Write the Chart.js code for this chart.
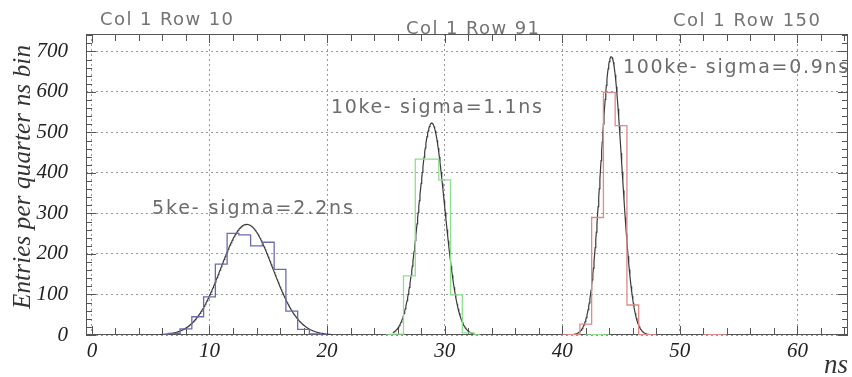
<!DOCTYPE html>
<html>
<head>
<meta charset="utf-8">
<script src="https://cdn.jsdelivr.net/npm/chart.js@4.4.1/dist/chart.umd.min.js"></script>
<style>
  html, body { margin: 0; padding: 0; background: #fff; }
  #wrap { width: 852px; height: 377px; }
</style>
</head>
<body>
<div id="wrap"><canvas id="timing" width="852" height="377"></canvas></div>
<script>
// timing histograms, 1 ns bins (centres), one per pixel row
const binsRow10 = [6, 7, 8, 9, 10, 11, 12, 13, 14, 15, 16, 17, 18, 19, 20];
const countsRow10 = [0, 4, 15, 45, 94, 175, 251, 247, 220, 229, 162, 59, 14, 3, 0];

const binsRow91 = [25, 26, 27, 28, 29, 30, 31, 32, 33, 34, 42, 43, 44];
const countsRow91 = [0, 2, 146, 434, 434, 383, 99, 5, 0, null, 0, 1, 0];

const binsRow150 = [40, 41, 42, 43, 44, 45, 46, 47, 48, 49, 52, 53, 54];
const countsRow150 = [0, 1, 27, 290, 599, 517, 74, 1, 0, null, 0, 1, 0];

// gaussian fit results
const fitAmp = [273, 523, 687];
const fitMean = [13.17, 28.9, 44.17];
const fitSigma = [2.2, 1.1, 0.9];
const fitFrom = [5.8, 25.6, 40.4];
const fitTo = [20.3, 32.6, 47.6];

const padTitles = ['Col 1 Row 10', 'Col 1 Row 91', 'Col 1 Row 150'];
const fitLabels = ['5ke- sigma=2.2ns', '10ke- sigma=1.1ns', '100ke- sigma=0.9ns'];

const xTicks = [0, 10, 20, 30, 40, 50, 60];
const yTicks = [0, 100, 200, 300, 400, 500, 600, 700];

function histPoints(bins, counts) {
  return bins.map((b, i) => ({ x: b, y: counts[i] }));
}

function fitPoints(k) {
  const pts = [];
  for (let x = fitFrom[k]; x <= fitTo[k] + 1e-9; x += 0.05) {
    const d = (x - fitMean[k]) / fitSigma[k];
    pts.push({ x: x, y: fitAmp[k] * Math.exp(-0.5 * d * d) });
  }
  return pts;
}

// draw str starting at left, stretched to width via letter spacing
function spacedText(ctx, str, left, base, width) {
  ctx.letterSpacing = '0px';
  const w = ctx.measureText(str).width;
  const sp = Math.max(0, (width - w) / (str.length - 1));
  ctx.letterSpacing = sp.toFixed(2) + 'px';
  ctx.fillText(str, left, base);
  ctx.letterSpacing = '0px';
}

const frameAndText = {
  id: 'frameAndText',
  beforeDatasetsDraw(chart) {
    const ctx = chart.ctx;
    const a = chart.chartArea;
    const xs = chart.scales.x, ys = chart.scales.y;
    ctx.save();
    ctx.strokeStyle = '#555';
    ctx.lineWidth = 1;
    ctx.strokeRect(a.left + 0.5, a.top + 0.5, a.right - a.left - 1, a.bottom - a.top - 1);

    ctx.beginPath();
    // x ticks, bottom and top, major every 10 and minor every 2
    for (let v = 0; v <= xs.max; v += 2) {
      const px = Math.round(xs.getPixelForValue(v)) + 0.5;
      const len = v % 10 === 0 ? 9 : 7;
      ctx.moveTo(px, a.bottom); ctx.lineTo(px, a.bottom - len);
      ctx.moveTo(px, a.top); ctx.lineTo(px, a.top + len);
    }
    // y ticks, left and right, major every 100 and minor every 20
    for (let v = 0; v <= ys.max; v += 20) {
      const py = Math.round(ys.getPixelForValue(v)) + 0.5;
      const len = v % 100 === 0 ? 10 : 6;
      ctx.moveTo(a.left, py); ctx.lineTo(a.left + len, py);
      ctx.moveTo(a.right, py); ctx.lineTo(a.right - len, py);
    }
    ctx.stroke();
    ctx.restore();
  },
  afterDraw(chart) {
    const ctx = chart.ctx;
    ctx.save();
    ctx.textAlign = 'left';
    ctx.textBaseline = 'alphabetic';

    ctx.fillStyle = '#737373';
    ctx.font = '18px "DejaVu Sans", Arial, sans-serif';
    spacedText(ctx, padTitles[0], 100, 25, 133);
    spacedText(ctx, padTitles[1], 406, 34, 133);
    spacedText(ctx, padTitles[2], 673, 26, 147);

    ctx.fillStyle = '#6c6c6c';
    ctx.font = '19px "DejaVu Sans", Arial, sans-serif';
    spacedText(ctx, fitLabels[0], 152, 214, 201);
    spacedText(ctx, fitLabels[1], 331, 113, 211);
    spacedText(ctx, fitLabels[2], 623, 73, 225);

    // axis titles
    ctx.fillStyle = '#333';
    ctx.font = 'italic 27px "Liberation Serif", "Times New Roman", serif';
    ctx.textAlign = 'right';
    ctx.fillText('ns', 848, 373);

    ctx.save();
    ctx.translate(30, 177);
    ctx.rotate(-Math.PI / 2);
    ctx.font = 'italic 25px "Liberation Serif", "Times New Roman", serif';
    ctx.textAlign = 'left';
    const yTitle = 'Entries per quarter ns bin';
    spacedText(ctx, yTitle, -132, 0, 264);
    ctx.restore();

    ctx.restore();
  }
};

const histStyle = (color) => ({
  type: 'line',
  stepped: 'middle',
  borderColor: color,
  borderWidth: 1.3,
  pointRadius: 0,
  fill: false,
  spanGaps: false
});

const fitStyle = {
  type: 'line',
  borderColor: '#3a3a3a',
  borderWidth: 1.2,
  pointRadius: 0,
  fill: false,
  tension: 0
};

const tickFont = { family: '"Liberation Serif", "Times New Roman", serif', style: 'italic', size: 21 };

new Chart(document.getElementById('timing'), {
  type: 'line',
  data: {
    datasets: [
      Object.assign({ data: histPoints(binsRow10, countsRow10) }, histStyle('#6b6bb0')),
      Object.assign({ data: histPoints(binsRow91, countsRow91) }, histStyle('#8ee08e')),
      Object.assign({ data: histPoints(binsRow150, countsRow150) }, histStyle('#e08a8a')),
      Object.assign({ data: fitPoints(0) }, fitStyle),
      Object.assign({ data: fitPoints(1) }, fitStyle),
      Object.assign({ data: fitPoints(2) }, fitStyle)
    ]
  },
  options: {
    responsive: false,
    animation: false,
    events: [],
    layout: { padding: { top: 34, right: 4, left: 0, bottom: 0 } },
    plugins: { legend: { display: false }, tooltip: { enabled: false } },
    scales: {
      x: {
        type: 'linear',
        min: -0.5,
        max: 64.3,
        afterBuildTicks: (s) => { s.ticks = xTicks.map(v => ({ value: v })); },
        afterFit: (s) => { s.height = 42; },
        ticks: { color: '#222', font: tickFont, padding: 4, maxRotation: 0 },
        grid: { color: '#9a9a9a', lineWidth: 1, drawTicks: false },
        border: { display: false, dash: [2, 3] }
      },
      y: {
        type: 'linear',
        min: 0,
        max: 743,
        afterBuildTicks: (s) => { s.ticks = yTicks.map(v => ({ value: v })); },
        afterFit: (s) => { s.width = 86; },
        ticks: { color: '#222', font: tickFont, padding: 18 },
        grid: { color: '#9a9a9a', lineWidth: 1, drawTicks: false },
        border: { display: false, dash: [2, 3] }
      }
    }
  },
  plugins: [frameAndText]
});
</script>
</body>
</html>
